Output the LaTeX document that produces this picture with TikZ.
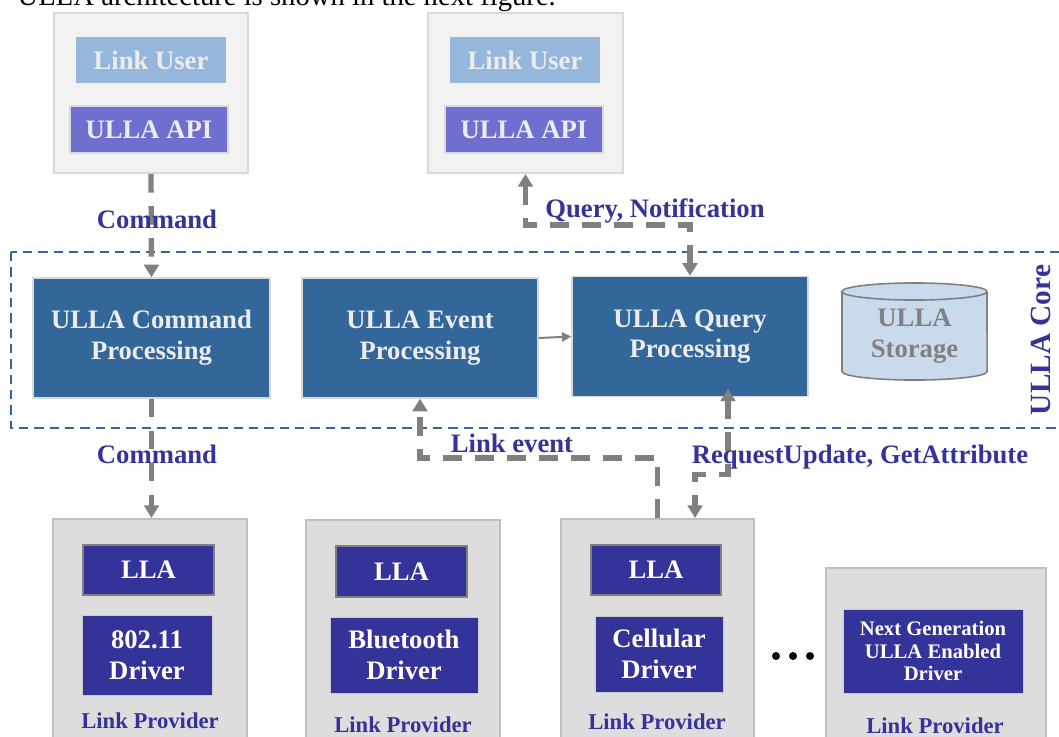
\documentclass[tikz,border=0pt]{standalone}
\usepackage{fontspec}
\setmainfont{Liberation Serif}
\usetikzlibrary{arrows.meta,positioning}
\definecolor{ullanavy}{HTML}{333399}
\definecolor{ullablue}{HTML}{336699}
\definecolor{userblue}{HTML}{95B7DB}
\definecolor{apiblue}{HTML}{6F6FCF}
\definecolor{usergray}{HTML}{F2F2F2}
\definecolor{lpgray}{HTML}{DDDDDD}
\definecolor{flowgray}{HTML}{808080}
\definecolor{storblue}{HTML}{C9DAEC}
\definecolor{boxtext}{HTML}{ECECEC}
\newcommand{\px}{0.75pt}
\newcommand{\bigfont}{\fontsize{20}{23}\selectfont\bfseries}
\newcommand{\lpfont}{\fontsize{17}{20}\selectfont\bfseries}
\newcommand{\ngfont}{\fontsize{15.5}{17}\selectfont\bfseries}
\tikzset{
  sized/.style 2 args={minimum width=#1*\px, minimum height=#2*\px, inner sep=0pt},
  userframe/.style={fill=usergray, draw=black!15, line width=1.5pt},
  userbox/.style={fill=userblue, text=boxtext, font=\bigfont},
  apibox/.style={fill=apiblue, draw=black!15, line width=1pt, text=boxtext, font=\bigfont},
  procbox/.style={fill=ullablue, draw=black!15, line width=1pt, text=boxtext, font=\bigfont, align=center},
  lpframe/.style={fill=lpgray, draw=black!25, line width=1.5pt},
  llabox/.style={fill=ullanavy, draw=black!50, line width=1pt, text=white, font=\bigfont},
  drvbox/.style={fill=ullanavy, draw=black!20, line width=0.5pt, text=white, font=\bigfont, align=center},
  lbl/.style={text=ullanavy, font=\bigfont, anchor=base},
  lplbl/.style={text=ullanavy, font=\lpfont, anchor=base},
  flow/.style={draw=flowgray, line width=4pt, dash pattern=on 14pt off 10pt,
    >={Triangle[width=11pt,length=9.5pt]}},
  evline/.style={draw=flowgray, line width=1.5pt, >={Triangle[width=7pt,length=7pt]}},
  coreline/.style={draw=ullablue, line width=1.5pt, dash pattern=on 7pt off 4.5pt},
  stor/.style={fill=storblue, draw=flowgray, line width=1.2pt}
}

\begin{document}
\begin{tikzpicture}[x=\px, y=-\px]
        \useasboundingbox (0,0) rectangle (1059,736);
        \clip (0,0) rectangle (1059,736);

        \node[anchor=base west, font=\fontsize{21.5}{24}\selectfont] (intro) at (13,5)
            {ULLA architecture is shown in the next figure.};

        % link users
        \node[userframe, sized={194}{160}] (user1) at (151,93) {};
        \node[userbox, sized={150}{46}] (lu1) at (151,60) {Link User};
        \node[apibox, sized={158}{47}] (api1) at (149,129.5) {ULLA API};
        \node[userframe, sized={195}{160}] (user2) at (525.5,93) {};
        \node[userbox, sized={150}{46}] (lu2) at (525,60) {Link User};
        \node[apibox, sized={158}{47}] (api2) at (524,129.5) {ULLA API};

        % ULLA core
        \draw[coreline] (11,252) rectangle (1080,428);
        \node[procbox, sized={237}{120}] (cmd) at (151.5,338) {ULLA Command\\Processing};
        \node[procbox, sized={236}{120}] (evt) at (420,338) {ULLA Event\\Processing};
        \node[procbox, sized={236}{120}] (qry) at (690,336.5) {ULLA Query\\Processing};
        \draw[stor] (842,291.5) -- (842,371.5) arc[start angle=180, end angle=360, x radius=54.4pt, y radius=6.4pt]
            -- (987,291.5) arc[start angle=0, end angle=180, x radius=54.4pt, y radius=6.4pt] -- cycle;
        \draw[stor, fill=none] (842,291.5) arc[start angle=180, end angle=360, x radius=54.4pt, y radius=6.4pt];
        \node[text=flowgray, font=\bigfont, align=center] (stortxt) at (914.5,336) {ULLA\\Storage};
        \node[text=ullanavy, font=\fontsize{22}{25}\selectfont\bfseries, rotate=90] (corelbl) at (1041,340) {ULLA Core};

        % link providers
        \node[lpframe, sized={194}{241}] (lp1) at (150,639.5) {};
        \node[llabox, sized={131}{50}] (lla1) at (148.5,570) {LLA};
        \node[drvbox, sized={130}{80}] (drv1) at (147,655) {802.11\\Driver};
        \node[lplbl] (lpl1) at (150,728) {Link Provider};
        \node[lpframe, sized={194}{241}] (lp2) at (403,640) {};
        \node[llabox, sized={131}{51}] (lla2) at (401.5,571.5) {LLA};
        \node[drvbox, sized={148}{76}] (drv2) at (404,655) {Bluetooth\\Driver};
        \node[lplbl] (lpl2) at (403,732) {Link Provider};
        \node[lpframe, sized={193}{241}] (lp3) at (657.5,639.5) {};
        \node[llabox, sized={130}{50}] (lla3) at (656,570) {LLA};
        \node[drvbox, sized={128}{76}] (drv3) at (659,654) {Cellular\\Driver};
        \node[lplbl] (lpl3) at (657,729) {Link Provider};
        \node[lpframe, sized={220}{212}] (lp4) at (936,674) {};
        \node[drvbox, sized={180}{84}, font=\ngfont] (drv4) at (933,651) {Next Generation\\ULLA Enabled\\Driver};
        \node[lplbl] (lpl4) at (935,733) {Link Provider};
        \foreach \d in {776,793,810}
            \fill (\d,656) circle[radius=3pt];

        % flows
        \draw[flow,->] (user1.south) -- (cmd.north);
        \draw[flow,->] (cmd.south) -- (cmd.south |- lp1.north);
        \draw[flow,<->] (user2.south) -- ++(0,51) -| (qry.north);
        \draw[evline,->] (evt.east) -- (qry.west);
        \draw[flow,->] (lp3.north) -- ++(0,-60) -| (evt.south);
        \draw[flow,<->, shorten <=-6.5pt] ([xshift=38*\px]qry.south) -- ++(0,77) -| ([xshift=37.5*\px]lp3.north);

        \node[lbl] (cmdin) at (157,228) {Command};
        \node[lbl] (query) at (655,217) {Query, Notification};
        \node[lbl] (cmdout) at (157,463) {Command};
        \node[lbl] (linkev) at (512,452) {Link event};
        \node[lbl] (requp) at (860,463) {RequestUpdate, GetAttribute};
\end{tikzpicture}
\end{document}
